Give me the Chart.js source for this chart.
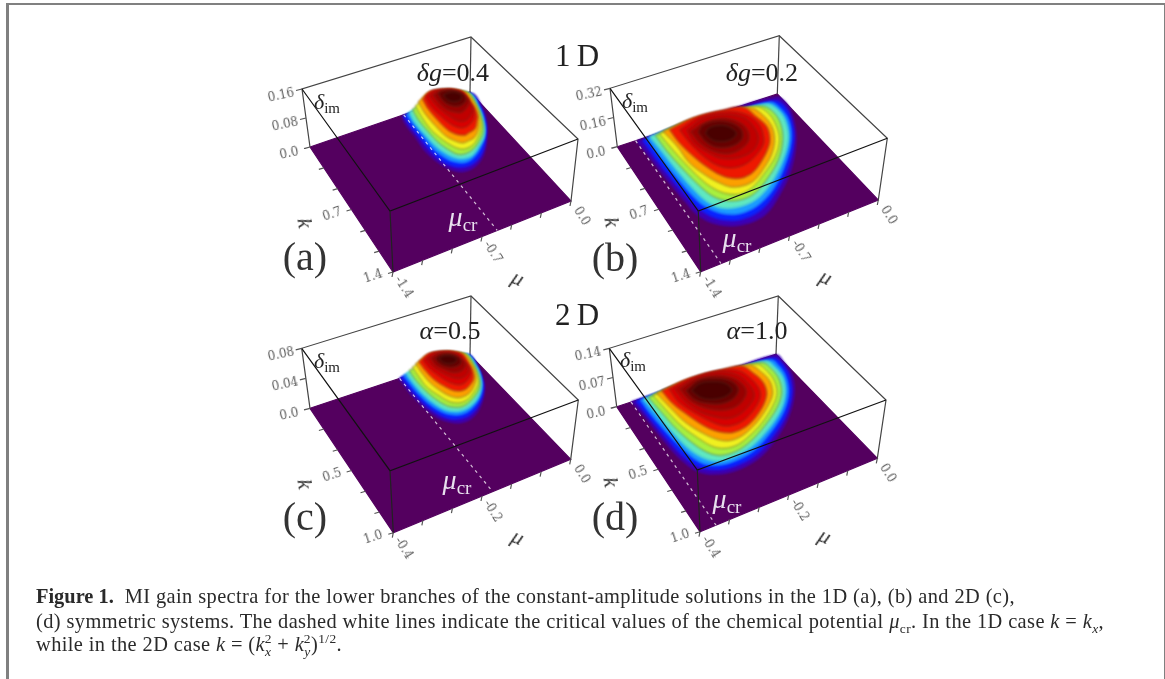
<!DOCTYPE html>
<html>
<head>
<meta charset="utf-8">
<title>Figure 1</title>
<script src="https://cdn.jsdelivr.net/npm/chart.js@4"></script>
<style>
html,body{margin:0;padding:0;background:#fff;}
#page{position:relative;width:1165px;height:679px;overflow:hidden;}
#chart{position:absolute;left:0;top:0;filter:blur(.4px);}
#frame{position:absolute;left:6px;top:3px;width:1155px;height:690px;border:2px solid #808080;border-left-width:3px;}
.t{position:absolute;white-space:nowrap;transform-origin:center;font-family:"Liberation Serif",serif;line-height:1;filter:blur(.3px);}
.tick{font-family:"DejaVu Serif",serif;font-size:12px;color:#5c5c5c;}
.t sub{font-size:.68em;vertical-align:-.25em;line-height:0;}
.cap{position:absolute;left:36px;white-space:nowrap;font-family:"Liberation Serif",serif;font-size:20.4px;letter-spacing:.4px;line-height:20px;color:#2a2a2a;filter:blur(.3px);}
.cap b{letter-spacing:0;}
.cap sub,.cap sup{font-size:.66em;line-height:0;}
</style>
</head>
<body>
<div id="page">
<canvas id="chart" width="1165" height="679"></canvas>
<div id="frame"></div>
<div id="labels"></div>
<div class="cap" style="top:586px"><b>Figure 1.</b>&nbsp;&nbsp;MI gain spectra for the lower branches of the constant-amplitude solutions in the 1D (a), (b) and 2D (c),</div>
<div class="cap" style="top:611px">(d) symmetric systems. The dashed white lines indicate the critical values of the chemical potential <i>μ</i><sub>cr</sub>. In the 1D case <i>k</i> = <i>k<sub>x</sub></i>,</div>
<div class="cap" style="top:634px">while in the 2D case <i>k</i> = (<i>k</i><sub><i>x</i></sub><sup style="margin-left:-.5em">2</sup> + <i>k</i><sub><i>y</i></sub><sup style="margin-left:-.5em">2</sup>)<sup>1/2</sup>.</div>
</div>
<script>
// contour levels of delta_im, one per ring, outermost first
const levelA=[0,.003,.008,.014,.022,.032,.043,.056,.072,.088,.109,.128,.144];
const levelB=[0,.006,.016,.029,.045,.064,.086,.112,.144,.176,.218,.256,.288];
const levelC=[0,.0016,.004,.0072,.0112,.016,.0216,.028,.036,.044,.0544,.064,.072];
const levelD=[0,.0028,.007,.0126,.0196,.028,.0378,.049,.063,.077,.0952,.112,.126];

// contour rings: mu and k of each ring point
const muA=[
[-.60,-.62,-.62,-.63,-.60,-.56,-.50,-.40,-.29,-.17,-.07,-.01,0,-.32],
[-.59,-.60,-.60,-.60,-.58,-.53,-.47,-.39,-.29,-.18,-.09,-.03,-.02,-.31],
[-.57,-.58,-.58,-.58,-.55,-.51,-.45,-.38,-.29,-.19,-.11,-.05,-.03,-.30],
[-.55,-.57,-.57,-.56,-.53,-.49,-.44,-.38,-.29,-.20,-.13,-.07,-.05,-.30],
[-.53,-.55,-.55,-.54,-.51,-.48,-.43,-.37,-.30,-.21,-.15,-.09,-.07,-.32],
[-.51,-.53,-.54,-.52,-.49,-.46,-.42,-.36,-.30,-.23,-.17,-.11,-.10,-.33],
[-.49,-.51,-.51,-.50,-.47,-.43,-.38,-.33,-.28,-.23,-.19,-.14,-.13,-.35],
[-.47,-.49,-.49,-.48,-.45,-.40,-.36,-.30,-.25,-.21,-.18,-.17,-.36],
[-.47,-.49,-.48,-.46,-.43,-.39,-.33,-.28,-.24,-.22,-.21,-.37],
[-.47,-.48,-.47,-.45,-.42,-.37,-.31,-.27,-.25,-.26,-.38],
[-.48,-.49,-.48,-.44,-.40,-.34,-.29,-.30,-.35,-.42],
[-.48,-.49,-.46,-.41,-.35,-.33,-.37,-.44],
[-.49,-.49,-.46,-.41,-.38,-.40,-.45]];
const kA=[
[.01,.11,.24,.42,.58,.67,.73,.73,.66,.51,.34,.17,.02,.03],
[.02,.12,.26,.43,.57,.66,.70,.70,.64,.51,.36,.19,.02,.01],
[.03,.13,.28,.44,.57,.64,.68,.67,.61,.51,.38,.21,.04,0],
[.04,.15,.29,.45,.56,.63,.66,.66,.60,.52,.40,.23,.05,0],
[.05,.17,.32,.46,.57,.63,.65,.64,.60,.52,.42,.24,.06,0],
[.06,.18,.34,.47,.57,.62,.64,.63,.59,.52,.43,.26,.09,0],
[.07,.20,.35,.48,.56,.61,.61,.60,.56,.50,.43,.30,.12,.01],
[.10,.22,.36,.48,.55,.59,.58,.56,.50,.44,.33,.15,.05],
[.14,.25,.38,.49,.55,.57,.55,.51,.44,.35,.20,.11],
[.20,.30,.40,.49,.55,.56,.52,.47,.38,.26,.18],
[.28,.37,.46,.52,.54,.51,.45,.36,.29,.27],
[.35,.45,.52,.54,.51,.44,.37,.34],
[.44,.50,.54,.54,.50,.45,.43]];

const muB=[
[-1.23,-1.22,-1.21,-1.19,-1.17,-1.09,-.95,-.76,-.58,-.36,-.16,-.05,0,-.03,-.42,-.81],
[-1.19,-1.19,-1.18,-1.16,-1.13,-1.06,-.93,-.76,-.57,-.37,-.18,-.08,-.04,-.08,-.44,-.81],
[-1.16,-1.16,-1.15,-1.13,-1.10,-1.03,-.92,-.76,-.58,-.39,-.21,-.11,-.09,-.12,-.45,-.80],
[-1.14,-1.13,-1.12,-1.10,-1.07,-1.01,-.90,-.75,-.59,-.41,-.24,-.15,-.13,-.17,-.47,-.80],
[-1.11,-1.11,-1.09,-1.06,-1.03,-.97,-.87,-.75,-.60,-.43,-.29,-.21,-.19,-.23,-.48,-.80],
[-1.09,-1.08,-1.06,-1.03,-.99,-.93,-.85,-.75,-.62,-.45,-.33,-.27,-.25,-.29,-.49,-.79],
[-1.07,-1.05,-1.05,-1.00,-.95,-.90,-.82,-.73,-.62,-.49,-.39,-.33,-.32,-.36,-.53,-.81],
[-1.04,-1.04,-1.01,-.97,-.92,-.86,-.79,-.71,-.61,-.51,-.44,-.39,-.40,-.43,-.58,-.82],
[-1.00,-1.00,-.98,-.94,-.87,-.77,-.66,-.55,-.50,-.46,-.48,-.58,-.80],
[-.98,-1.00,-.95,-.91,-.83,-.74,-.65,-.57,-.54,-.55,-.64,-.81],
[-1.00,-1.00,-.96,-.88,-.78,-.69,-.64,-.65,-.73,-.86],
[-.99,-.99,-.95,-.85,-.75,-.71,-.75,-.83,-.93],
[-.98,-.97,-.92,-.85,-.79,-.80,-.85,-.93]];
const kB=[
[.01,.19,.45,.72,.89,1.03,1.12,1.12,1.00,.79,.52,.30,.12,.03,0,0],
[.03,.20,.45,.71,.87,1.00,1.08,1.07,.95,.76,.52,.32,.15,.07,.04,0],
[.04,.21,.46,.71,.85,.97,1.04,1.03,.93,.75,.53,.33,.18,.09,.07,.02],
[.06,.23,.47,.70,.85,.95,1.00,.99,.90,.74,.54,.35,.21,.12,.09,.04],
[.09,.26,.49,.71,.83,.92,.97,.96,.87,.73,.55,.38,.24,.15,.11,.06],
[.12,.30,.51,.71,.83,.91,.95,.93,.85,.72,.57,.42,.28,.17,.13,.09],
[.15,.33,.53,.71,.82,.89,.92,.91,.84,.73,.60,.46,.32,.20,.15,.12],
[.20,.36,.55,.70,.81,.87,.89,.87,.80,.71,.62,.49,.36,.22,.18,.16],
[.29,.44,.60,.73,.81,.83,.79,.71,.63,.50,.37,.27,.23],
[.37,.52,.67,.74,.79,.80,.77,.68,.56,.44,.35,.31],
[.47,.61,.72,.80,.80,.75,.65,.54,.45,.43],
[.57,.68,.77,.81,.77,.67,.57,.52,.52],
[.66,.74,.79,.80,.76,.68,.63,.62]];

const muC=[
[-.177,-.178,-.179,-.174,-.164,-.149,-.134,-.108,-.079,-.045,-.022,-.009,-.005,-.088],
[-.173,-.173,-.173,-.168,-.158,-.144,-.128,-.106,-.077,-.048,-.026,-.009,-.005,-.088],
[-.167,-.168,-.168,-.163,-.152,-.138,-.124,-.104,-.077,-.051,-.031,-.014,-.011,-.087],
[-.162,-.164,-.164,-.158,-.148,-.134,-.121,-.103,-.079,-.055,-.035,-.019,-.017,-.088],
[-.157,-.160,-.159,-.153,-.143,-.130,-.119,-.102,-.081,-.057,-.042,-.027,-.023,-.092],
[-.151,-.154,-.156,-.147,-.138,-.126,-.115,-.099,-.081,-.060,-.048,-.035,-.032,-.095],
[-.146,-.149,-.149,-.142,-.133,-.122,-.109,-.093,-.077,-.062,-.053,-.043,-.041,-.102],
[-.144,-.146,-.144,-.136,-.127,-.116,-.102,-.086,-.072,-.063,-.055,-.052,-.108],
[-.143,-.145,-.140,-.133,-.123,-.112,-.097,-.082,-.073,-.068,-.066,-.111],
[-.144,-.145,-.139,-.130,-.120,-.107,-.092,-.083,-.080,-.082,-.115],
[-.147,-.149,-.141,-.131,-.117,-.104,-.094,-.094,-.102,-.125],
[-.151,-.150,-.141,-.126,-.111,-.108,-.118,-.135],
[-.154,-.151,-.140,-.127,-.123,-.131,-.144]];
const kC=[
[0,.049,.143,.266,.363,.419,.449,.452,.411,.320,.225,.111,0,0],
[.002,.057,.154,.267,.355,.407,.428,.430,.393,.320,.231,.111,0,0],
[.006,.070,.165,.272,.352,.395,.414,.413,.379,.319,.241,.122,.008,0],
[.015,.081,.179,.282,.355,.392,.406,.404,.377,.324,.251,.137,.023,0],
[.024,.098,.194,.288,.359,.391,.403,.397,.370,.323,.264,.155,.036,0],
[.034,.108,.206,.296,.361,.390,.399,.391,.364,.321,.276,.175,.058,0],
[.048,.127,.220,.303,.358,.386,.391,.379,.349,.309,.270,.196,.080,.010],
[.075,.149,.236,.306,.355,.376,.377,.356,.326,.286,.219,.111,.040],
[.117,.180,.253,.317,.359,.375,.365,.336,.299,.241,.148,.084],
[.158,.216,.278,.332,.364,.372,.352,.317,.265,.188,.139],
[.217,.274,.321,.365,.377,.365,.332,.281,.233,.203],
[.277,.332,.368,.382,.365,.326,.284,.267],
[.332,.372,.392,.386,.362,.332,.321]];

const muD=[
[-.362,-.356,-.352,-.345,-.330,-.304,-.260,-.201,-.145,-.085,-.036,-.008,0,0,-.114,-.238],
[-.353,-.350,-.345,-.337,-.321,-.296,-.255,-.200,-.145,-.089,-.043,-.018,-.009,-.015,-.120,-.241],
[-.345,-.344,-.338,-.328,-.314,-.290,-.251,-.201,-.147,-.093,-.052,-.029,-.022,-.027,-.124,-.239],
[-.340,-.336,-.330,-.321,-.305,-.284,-.247,-.203,-.152,-.099,-.062,-.040,-.036,-.042,-.128,-.237],
[-.332,-.328,-.322,-.309,-.294,-.275,-.243,-.204,-.157,-.106,-.073,-.054,-.050,-.057,-.131,-.237],
[-.325,-.320,-.313,-.297,-.283,-.264,-.237,-.203,-.162,-.115,-.087,-.071,-.068,-.075,-.139,-.237],
[-.320,-.314,-.306,-.288,-.271,-.253,-.228,-.200,-.164,-.124,-.101,-.087,-.088,-.097,-.151,-.239],
[-.312,-.309,-.295,-.279,-.261,-.242,-.220,-.194,-.166,-.137,-.118,-.109,-.112,-.122,-.169,-.239],
[-.303,-.304,-.289,-.271,-.253,-.229,-.205,-.177,-.150,-.137,-.135,-.145,-.182,-.244],
[-.300,-.299,-.286,-.266,-.244,-.218,-.188,-.164,-.157,-.164,-.193,-.246],
[-.301,-.299,-.283,-.259,-.235,-.208,-.185,-.181,-.194,-.223,-.264],
[-.301,-.299,-.281,-.256,-.228,-.206,-.206,-.228,-.261],
[-.299,-.293,-.276,-.249,-.227,-.229,-.247,-.274]];
const kD=[
[0,.128,.302,.482,.603,.666,.699,.678,.598,.473,.324,.188,.075,.007,0,0],
[.014,.139,.309,.483,.591,.648,.674,.653,.573,.462,.325,.196,.093,.031,.017,0],
[.028,.153,.315,.481,.583,.635,.653,.631,.555,.450,.329,.210,.117,.048,.034,.011],
[.045,.167,.325,.483,.579,.627,.638,.614,.546,.446,.337,.226,.135,.064,.050,.027],
[.063,.186,.340,.487,.576,.620,.630,.601,.535,.441,.349,.245,.156,.084,.066,.042],
[.084,.211,.354,.486,.566,.606,.615,.585,.530,.439,.362,.267,.178,.107,.082,.061],
[.107,.231,.361,.482,.555,.591,.596,.572,.520,.440,.375,.283,.199,.127,.099,.084],
[.133,.249,.372,.484,.547,.578,.580,.558,.514,.450,.385,.306,.226,.147,.124,.111],
[.182,.285,.401,.496,.557,.572,.557,.516,.455,.392,.304,.212,.166,.155],
[.235,.340,.442,.511,.554,.553,.515,.458,.364,.277,.216,.204],
[.299,.392,.475,.529,.547,.526,.468,.394,.324,.281,.271],
[.370,.446,.504,.538,.532,.482,.414,.357,.330],
[.423,.487,.528,.541,.512,.451,.412,.393]];

const ringColors=['#3c00b8','#0a24ff','#1c9cff','#60e8c0','#a8f040','#f0f020','#fca000','#ee1800','#d80000','#c00000','#980000','#680000','#4a0000'];

const panels=[
{floor:[[310,147],[470,92],[571,201],[393,272]],top:[[302,89],[471,37],[578,139],[390,211]],
 muMin:-1.4,kMax:1.4,dMax:.16,muCr:-.58,mu:muA,k:kA,level:levelA,
 muTicks:['-1.4','-0.7','0.0'],kTicks:['0.7','1.4'],dTicks:['0.0','0.08','0.16'],
 tag:'(a)',tagPos:[305,257],note:'<i>δg</i>=0.4',notePos:[453,73],crPos:[463,217],imPos:[327,102]},
{floor:[[617.3,146.7],[777.3,94],[878.3,200],[700.7,271.7]],top:[[610,88.3],[779.3,35.7],[887.3,138.3],[698.3,211]],
 muMin:-1.4,kMax:1.4,dMax:.32,muCr:-1.24,mu:muB,k:kB,level:levelB,
 muTicks:['-1.4','-0.7','0.0'],kTicks:['0.7','1.4'],dTicks:['0.0','0.16','0.32'],
 tag:'(b)',tagPos:[615,258],note:'<i>δg</i>=0.2',notePos:[762,73],crPos:[737,238],imPos:[635,101]},
{floor:[[310,408.3],[470,355],[570.7,459.3],[393.3,532.7]],top:[[301.7,348.3],[471,296],[578.3,400],[390,470.7]],
 muMin:-.4,kMax:1,dMax:.08,muCr:-.176,mu:muC,k:kC,level:levelC,
 muTicks:['-0.4','-0.2','0.0'],kTicks:['0.5','1.0'],dTicks:['0.0','0.04','0.08'],
 tag:'(c)',tagPos:[305,517],note:'<i>α</i>=0.5',notePos:[450,331],crPos:[457,480],imPos:[327,361]},
{floor:[[616.7,406.7],[776,354.3],[877.3,458.3],[700,531.7]],top:[[609.3,348.3],[778.3,296],[886,400],[697.3,470]],
 muMin:-.4,kMax:1,dMax:.14,muCr:-.364,mu:muD,k:kD,level:levelD,
 muTicks:['-0.4','-0.2','0.0'],kTicks:['0.5','1.0'],dTicks:['0.0','0.07','0.14'],
 tag:'(d)',tagPos:[615,517],note:'<i>α</i>=1.0',notePos:[757,331],crPos:[727,499],imPos:[633,360]}
];

function bilinear(q,u,v){
  const x=q[0][0]*(1-u)*(1-v)+q[1][0]*u*(1-v)+q[2][0]*u*v+q[3][0]*(1-u)*v;
  const y=q[0][1]*(1-u)*(1-v)+q[1][1]*u*(1-v)+q[2][1]*u*v+q[3][1]*(1-u)*v;
  return [x,y];
}
// view of the 3D box: mu, k, delta to the flat x, y of the chart
function project(p,mu,k,d){
  const u=(mu-p.muMin)/(-p.muMin),v=k/p.kMax,t=d/p.dMax;
  const a=bilinear(p.floor,u,v),b=bilinear(p.top,u,v);
  return {x:a[0]+(b[0]-a[0])*t,y:a[1]+(b[1]-a[1])*t};
}

const datasets=[];
const seg=(pts,o)=>datasets.push(Object.assign({data:pts,showLine:true,pointRadius:0,borderColor:'#333',borderWidth:1.2,tension:0,fill:false,spanGaps:false},o));

panels.forEach(p=>{
  const P=(mu,k,d)=>project(p,mu,k,d);
  const m=p.muMin,K=p.kMax,D=p.dMax;
  seg([P(m,0,0),P(0,0,0),P(0,K,0),P(m,K,0),P(m,0,0)],{fill:'shape',backgroundColor:'#54005f',borderColor:'#54005f'});
  seg([P(m,0,0),P(m,0,D),P(0,0,D),P(0,K,D),P(0,K,0)],{borderColor:'#444'});
  seg([P(0,0,0),P(0,0,D)],{borderColor:'#444'});
  p.mu.forEach((ring,i)=>{
    const pts=ring.map((mu,j)=>P(mu,p.k[i][j],p.level[i]));
    pts.push(pts[0]);
    seg(pts,{fill:'shape',backgroundColor:ringColors[i],borderColor:i>3?'rgba(70,60,40,.5)':ringColors[i],borderWidth:1,tension:.35,soft:true});
  });
  seg([P(p.muCr,0,0),P(p.muCr,K,0)],{borderColor:'rgba(255,255,255,.75)',borderDash:[3,4],borderWidth:1.2});
  seg([P(m,0,D),P(m,K,D),P(0,K,D)],{borderColor:'#111'});
  seg([P(m,K,D),P(m,K,0)],{borderColor:'#222'});
  const ticks=[];
  for(let i=0;i<=6;i++){
    const s=P(m*(1-i/6),K,0);
    ticks.push(s,{x:s.x-1,y:s.y+5},{x:NaN,y:NaN});
    const e=P(m,K*i/6,0);
    ticks.push(e,{x:e.x-5,y:e.y+1.5},{x:NaN,y:NaN});
  }
  [0,.5,1].forEach(f=>{const e=P(m,0,D*f);ticks.push(e,{x:e.x-6,y:e.y+1.5},{x:NaN,y:NaN});});
  seg(ticks,{borderColor:'#555'});
});
// chart.js paints the last dataset first
datasets.reverse();

const soft='blur(.8px)';
const chart=new Chart(document.getElementById('chart'),{
  type:'scatter',
  data:{datasets},
  options:{
    responsive:false,animation:false,
    layout:{padding:0},
    scales:{x:{type:'linear',min:0,max:1165,display:false},y:{type:'linear',min:0,max:679,reverse:true,display:false}},
    plugins:{legend:{display:false},tooltip:{enabled:false}}
  },
  plugins:[{
    id:'soften',
    afterDatasetDraw(c,a){const n=c.data.datasets[a.index-1];c.ctx.filter=n&&n.soft?soft:'none';},
    afterDatasetsDraw(c){c.ctx.filter='none';}
  }]
});

const box=document.getElementById('labels');
function label(html,x,y,rot,size,color,cls){
  const e=document.createElement('div');
  e.className='t '+(cls||'');
  e.innerHTML=html;
  if(size)e.style.fontSize=size+'px';
  if(color)e.style.color=color;
  e.style.left=chart.scales.x.getPixelForValue(x)+'px';
  e.style.top=chart.scales.y.getPixelForValue(y)+'px';
  e.style.transform='translate(-50%,-50%) rotate('+rot+'deg)';
  box.appendChild(e);
}
panels.forEach(p=>{
  const m=p.muMin,K=p.kMax,D=p.dMax;
  p.dTicks.forEach((s,i)=>{const q=project(p,m,0,D*i/2);label(s,q.x-21,q.y+6,-12,0,0,'tick');});
  p.kTicks.forEach((s,i)=>{const q=project(p,m,K*(i+1)/2,0);label(s,q.x-20,q.y+4,-18,0,0,'tick');});
  p.muTicks.forEach((s,i)=>{const q=project(p,m*(1-i/2),K,0);label(s,q.x+11,q.y+15,58,0,0,'tick');});
  const km=project(p,m,K/2,0),mm=project(p,m/2,K,0);
  label('<i>k</i>',km.x-47,km.y+13,80,22,'#333');
  label('<i>μ</i>',mm.x+36,mm.y+41,25,22,'#333');
  label(p.tag,p.tagPos[0],p.tagPos[1],0,40,'#333');
  label(p.note,p.notePos[0],p.notePos[1],0,26,'#222');
  label('<i>μ</i><sub>cr</sub>',p.crPos[0],p.crPos[1],0,28,'#e8e0ee');
  label('<i>δ</i><sub>im</sub>',p.imPos[0],p.imPos[1],0,22,'#222');
});
label('1&thinsp;D',577,55,0,31,'#222');
label('2&thinsp;D',577,314,0,31,'#222');
</script>
</body>
</html>
